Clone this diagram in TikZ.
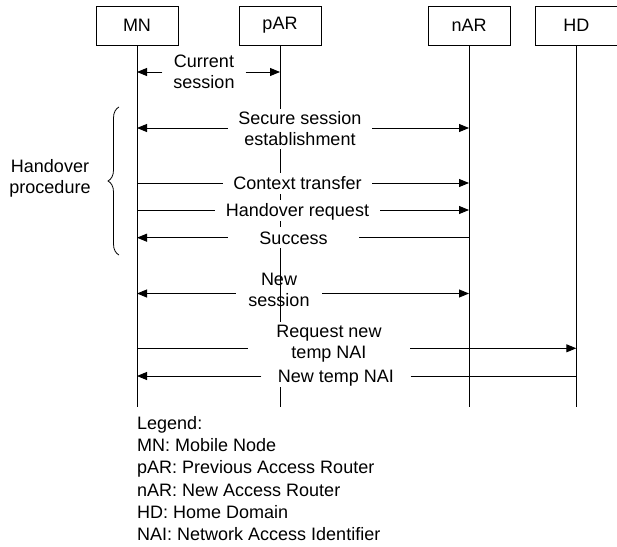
\documentclass[tikz,border=0pt]{standalone}
\usepackage{fontspec}
\setmainfont{Liberation Sans}
\usetikzlibrary{arrows.meta,decorations.pathreplacing}
\begin{document}
\begin{tikzpicture}[x=1pt,y=-1pt,
  every node/.style={font=\fontsize{18}{21}\selectfont},
  actor/.style={draw, line width=0.9pt, minimum width=82pt, minimum height=39pt, inner sep=0pt},
  life/.style={line width=0.9pt},
  msg/.style={line width=0.9pt},
  tip/.style={-{Triangle[length=10pt,width=8pt]}},
  lbl/.style={align=center, inner ysep=3pt},
  oneline/.style={text height=13pt, text depth=0pt, inner ysep=4pt},
  blank/.style={fill=white}]
\useasboundingbox (0,0) rectangle (617,546);

% actors
\node[actor] (MN)  at (137,25.5)   {MN};
\node[actor] (pAR) at (280,25.5)   {pAR};
\node[actor] (nAR) at (469,25.5)   {nAR};
\node[actor] (HD)  at (576.3,25.5) {HD};

% lifelines
\coordinate (bottom) at (0,407);
\foreach \a in {MN,pAR,nAR,HD}
  \draw[life] (\a.south) -- (\a.south |- bottom);

% current session
\node[lbl, inner xsep=11pt] (cs) at (204,72) {Current\\session};
\draw[msg,tip] (cs.west) -- (cs.west -| MN);
\draw[msg,tip] (cs.east) -- (cs.east -| pAR);

% handover procedure
\node[lbl, blank, inner xsep=10.5pt] (sse) at (300,129) {Secure session\\establishment};
\draw[msg,tip] ([yshift=1pt]sse.west) -- ([yshift=1pt]sse.west -| MN);
\draw[msg,tip] ([yshift=1pt]sse.east) -- ([yshift=1pt]sse.east -| nAR);

\node[lbl, oneline, blank, inner xsep=10.5pt] (ct) at (297.5,183) {Context transfer};
\draw[msg] (ct.west) -- (ct.west -| MN);
\draw[msg,tip] (ct.east) -- (ct.east -| nAR);

\node[lbl, oneline, blank, inner xsep=11pt] (hr) at (297.5,210) {Handover request};
\draw[msg] (hr.west) -- (hr.west -| MN);
\draw[msg,tip] (hr.east) -- (hr.east -| nAR);

\node[lbl, oneline, blank, inner xsep=31.5pt] (sc) at (293.5,237.7) {Success};
\draw[msg,tip] (sc.west) -- (sc.west -| MN);
\draw[msg] (sc.east) -- (sc.east -| nAR);

\draw[line width=0.8pt, decorate, decoration={brace, amplitude=11pt}] (119,255) -- (119,107);
\node[align=center] (hp) at (50,178) {Handover\\procedure};

% new session
\node[lbl, inner xsep=12.5pt] (ns) at (279,289.5) {New\\session};
\draw[msg,tip] ([yshift=-4pt]ns.west) -- ([yshift=-4pt]ns.west -| MN);
\draw[msg,tip] ([yshift=-4pt]ns.east) -- ([yshift=-4pt]ns.east -| nAR);

% temporary identifier
\node[lbl, blank, inner xsep=28.5pt] (rq) at (329,344) {Request new\\temp NAI};
\draw[msg] ([yshift=-4.3pt]rq.west) -- ([yshift=-4.3pt]rq.west -| MN);
\draw[msg,tip] ([yshift=-4.3pt]rq.east) -- ([yshift=-4.3pt]rq.east -| HD);

\node[lbl, oneline, blank, inner xsep=16.5pt] (nt) at (336,376) {New temp NAI};
\draw[msg,tip] (nt.west) -- (nt.west -| MN);
\draw[msg] (nt.east) -- (nt.east -| HD);

% legend
\node[anchor=north west, align=left, inner sep=0pt,
      font=\fontsize{18}{22.3}\selectfont] (legend) at (137,416)
  {Legend:\\MN: Mobile Node\\pAR: Previous Access Router\\nAR: New Access Router\\HD: Home Domain\\NAI: Network Access Identifier};
\end{tikzpicture}
\end{document}
